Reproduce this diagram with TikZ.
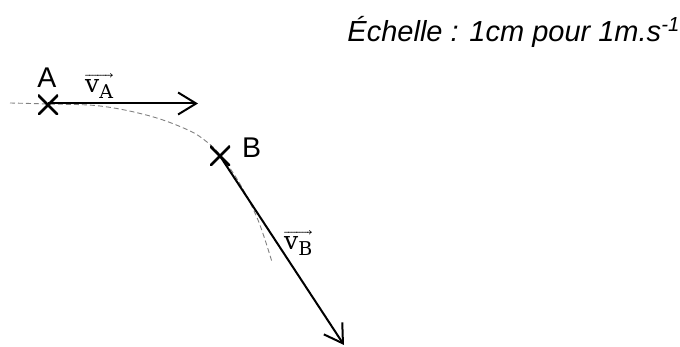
\documentclass[tikz,border=0pt]{standalone}
\usepackage{fontspec}
\usepackage{unicode-math}
\setmathfont{Latin Modern Math}
\setsansfont{Liberation Sans}
\newfontfamily\vecfont{DejaVu Serif}
\newcommand{\vlab}[1]{$\overrightarrow{\hbox{\vecfont\fontsize{25}{29}\selectfont v}_{\hbox{\vecfont\fontsize{19}{22}\selectfont #1}}}$}
\usetikzlibrary{arrows.meta}
\tikzset{
  cross/.style={draw=none,inner sep=0pt,minimum size=20pt,path picture={
    \draw[line width=2.6pt] (path picture bounding box.north west) -- (path picture bounding box.south east)
      (path picture bounding box.north east) -- (path picture bounding box.south west);}},
  ptlabel/.style={font=\sffamily\fontsize{28.5}{32}\selectfont,inner sep=0pt},
  veclabel/.style={font=\fontsize{24}{28}\selectfont,inner sep=0pt},
  vec/.style={line width=2pt,-{Straight Barb[length=18pt,width=22pt,line width=2pt]}},
  traj/.style={gray,dashed,line width=0.9pt,dash pattern=on 5pt off 3pt}
}
\begin{document}
\begin{tikzpicture}[x=1pt,y=-1pt]
\useasboundingbox (0,0) rectangle (680,347);
\draw[traj] plot[smooth,tension=0.6] coordinates {(10,103) (48,104) (100,106) (150,116) (188,130) (207,142) (221,156) (240,184) (258,220) (272,262)};
\node[cross] (A) at (48,105) {};
\node[cross] (B) at (220,156) {};
\coordinate (Ac) at (48,103.5);
\coordinate (Aend) at (198,103.5);
\coordinate (Bend) at (344,345);
\draw[vec] (Ac) -- (Aend);
\draw[vec] (B.center) -- (Bend);
\node[ptlabel,anchor=base] (la) at (47,88) {A};
\node[ptlabel,anchor=base west] (lb) at (242,158) {B};
\node[veclabel,anchor=base west] (lva) at (85,93) {\vlab{A}};
\node[veclabel,anchor=base west] (lvb) at (284,250) {\vlab{B}};
\node[font=\sffamily\itshape\fontsize{29}{34}\selectfont,anchor=base east,inner sep=0pt] (scale) at (680,42) {Échelle : 1cm pour 1m.s\textsuperscript{-1}};
\end{tikzpicture}
\end{document}
